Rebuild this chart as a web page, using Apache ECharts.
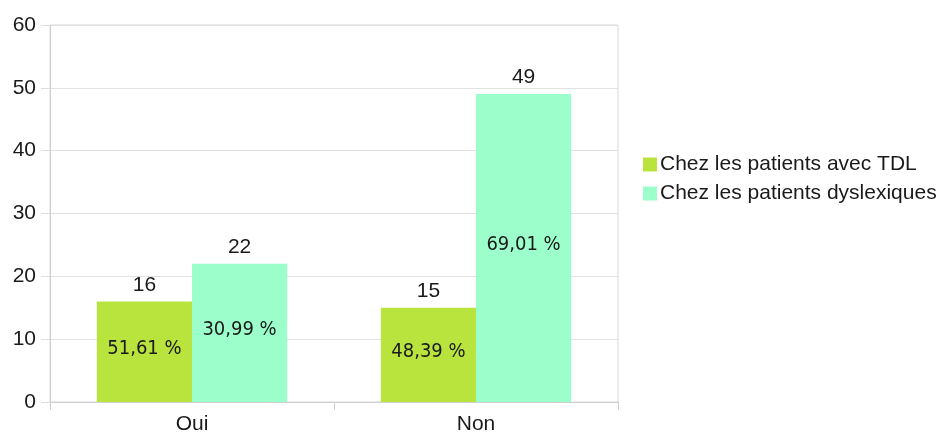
<!DOCTYPE html>
<html>
<head>
<meta charset="utf-8">
<script src="https://cdn.jsdelivr.net/npm/echarts@6/dist/echarts.min.js"></script>
<style>
  html, body { margin: 0; padding: 0; background: #fff; }
  #chart { width: 945px; height: 435px; }
</style>
</head>
<body>
<div id="chart"></div>
<script>
// Réponses par groupe de patients
const categories = ['Oui', 'Non'];
const seriesNames = ['Chez les patients avec TDL', 'Chez les patients dyslexiques'];
const tdlValues = [16, 15];
const dysValues = [22, 49];
const yTicks = { min: 0, max: 60, interval: 10 };

const colors = ['#b9e43e', '#9cffcb'];

// Part de chaque réponse dans le total du groupe
function percents(values) {
  const total = values.reduce((a, b) => a + b, 0);
  return values.map(v => (v / total * 100).toFixed(2).replace('.', ',') + ' %');
}
const tdlPct = percents(tdlValues);
const dysPct = percents(dysValues);

const font = 'Liberation Sans';
const fontSize = 21;
const barCfg = { barGap: '0%', barCategoryGap: '33%' };

function barSeries(name, values, pct, color) {
  return Object.assign({
    name: name,
    type: 'bar',
    xAxisIndex: 0,
    data: values,
    itemStyle: { color: color },
    label: {
      show: true,
      position: 'inside',
      offset: [0, -3],
      formatter: p => pct[p.dataIndex],
      fontFamily: 'DejaVu Sans Condensed',
      fontSize: 20,
      color: '#1a1a1a'
    }
  }, barCfg);
}

// Séries transparentes superposées pour afficher les effectifs au-dessus des barres
function topSeries(values) {
  return Object.assign({
    type: 'bar',
    xAxisIndex: 1,
    data: values,
    silent: true,
    itemStyle: { color: 'rgba(0,0,0,0)' },
    label: {
      show: true,
      position: 'top',
      distance: 6,
      fontFamily: font,
      fontSize: fontSize,
      color: '#1a1a1a'
    },
    tooltip: { show: false }
  }, barCfg);
}

const chart = echarts.init(document.getElementById('chart'), null, { renderer: 'canvas' });
chart.setOption({
  animation: false,
  backgroundColor: '#ffffff',
  grid: {
    left: 50, right: 327, top: 25, bottom: 33,
    show: true, borderColor: '#d9d9d9', borderWidth: 1
  },
  legend: {
    orient: 'vertical',
    left: 638,
    top: 149,
    itemWidth: 14,
    itemHeight: 14,
    itemGap: 8,
    icon: 'rect',
    data: seriesNames,
    textStyle: { fontFamily: font, fontSize: fontSize, color: '#1a1a1a', padding: [0, 0, 0, -2] }
  },
  xAxis: [{
    type: 'category',
    data: categories,
    axisLine: { show: true, lineStyle: { color: '#cfcfcf' } },
    axisTick: { show: true, length: 8, alignWithLabel: false, lineStyle: { color: '#cfcfcf' } },
    axisLabel: { fontFamily: font, fontSize: fontSize, color: '#1a1a1a', margin: 12 },
    splitLine: { show: false }
  }, {
    type: 'category',
    data: categories,
    show: false
  }],
  yAxis: {
    type: 'value',
    min: yTicks.min,
    max: yTicks.max,
    interval: yTicks.interval,
    axisLine: { show: true, lineStyle: { color: '#cfcfcf' } },
    axisTick: { show: true, length: 9, lineStyle: { color: '#dedede' } },
    axisLabel: { fontFamily: font, fontSize: fontSize, color: '#1a1a1a', margin: 14 },
    splitLine: { show: true, lineStyle: { color: '#e2e2e2' } }
  },
  series: [
    barSeries(seriesNames[0], tdlValues, tdlPct, colors[0]),
    barSeries(seriesNames[1], dysValues, dysPct, colors[1]),
    topSeries(tdlValues),
    topSeries(dysValues)
  ]
});
</script>
</body>
</html>
